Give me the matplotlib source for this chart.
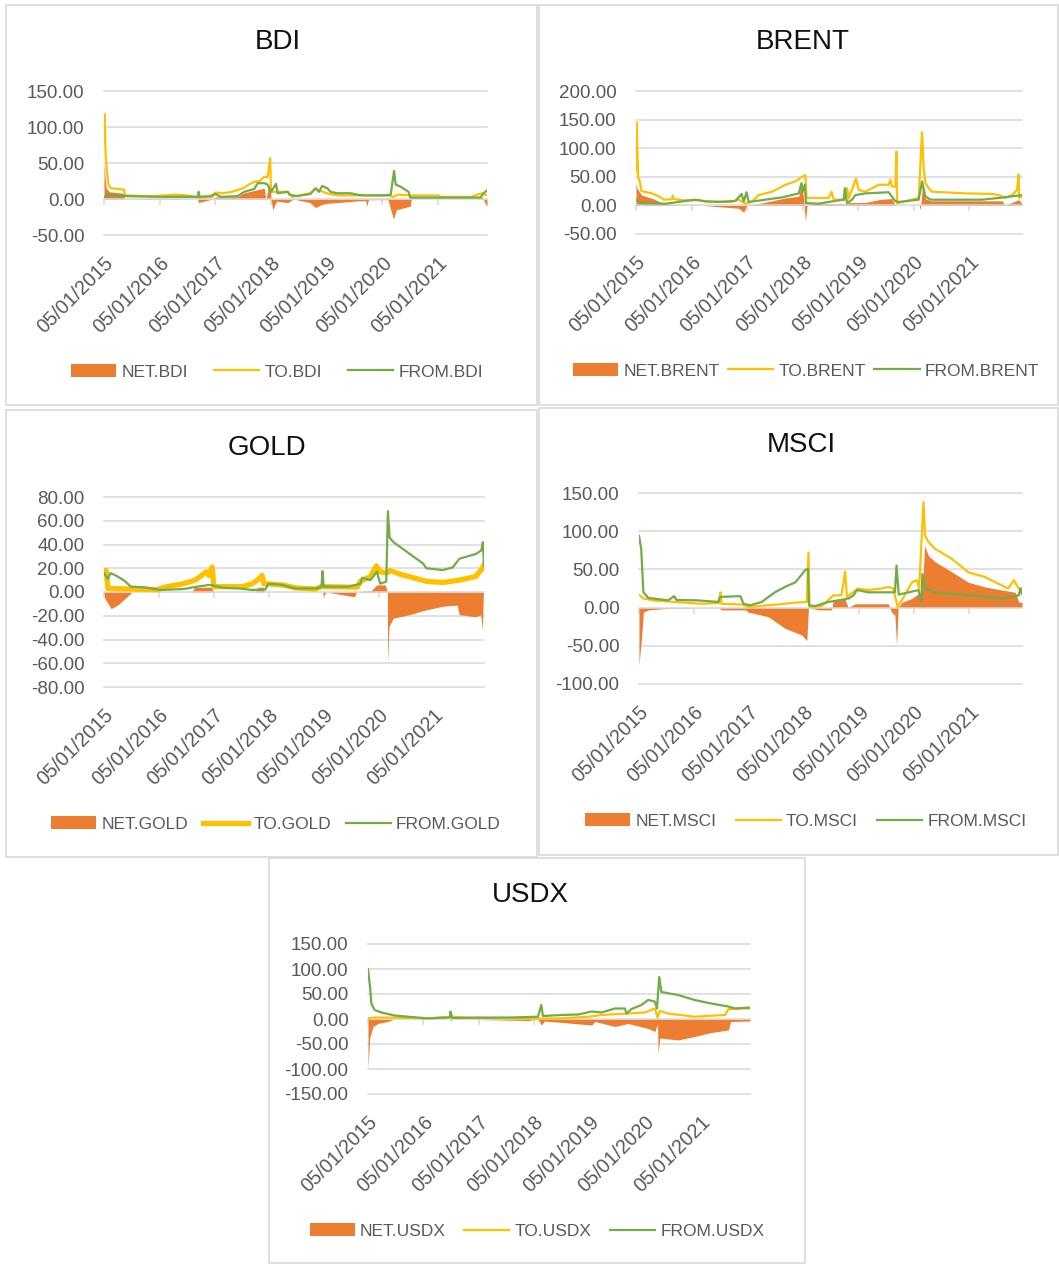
import matplotlib.pyplot as plt
from matplotlib.patches import Rectangle

# time axis in years after 05/01/2015
YEAR_LABELS = ['05/01/2015', '05/01/2016', '05/01/2017', '05/01/2018',
               '05/01/2019', '05/01/2020', '05/01/2021']

BDI_NET = [(0.0, 50), (0.02, 30), (0.04, 15), (0.1, 10), (0.35, 8), (0.37, 0), (1.0, 1),
           (1.68, 0), (1.7, -5), (1.8, -3), (1.95, 0), (2.0, 3), (2.4, 3), (2.5, 8), (2.7, 12),
           (2.88, 15), (2.91, -3), (2.95, 18), (2.99, 20), (3.0, 0), (3.03, -15), (3.1, -3),
           (3.3, -5), (3.4, 0), (3.7, -5), (3.8, -12), (3.9, -8), (4.0, -6), (4.2, -5), (4.5, -3),
           (4.7, -2), (4.72, -10), (4.75, -1), (5.1, -1), (5.2, -28), (5.25, -15), (5.4, -12),
           (5.5, -10), (5.52, 0), (6.7, 0), (6.8, 3), (6.84, -5), (6.88, -10)]
BDI_TO = [(0.0, 80), (0.01, 118), (0.03, 60), (0.05, 40), (0.08, 20), (0.12, 15), (0.25, 14),
          (0.36, 13), (0.38, 5), (0.8, 4), (1.1, 5), (1.3, 6), (1.5, 5), (1.7, 2), (1.95, 3),
          (2.0, 9), (2.15, 8), (2.3, 10), (2.5, 15), (2.6, 20), (2.7, 24), (2.8, 25), (2.88, 31),
          (2.94, 30), (2.985, 57), (3.0, 10), (3.3, 10), (3.38, 3), (3.7, 8), (3.8, 14), (3.9, 11),
          (4.0, 8), (4.2, 5), (5.1, 5), (5.2, 3), (5.28, 6), (5.5, 5), (6.0, 5), (6.05, 3),
          (6.6, 3), (6.7, 6), (6.8, 8), (6.88, 5)]
BDI_FROM = [(0.0, 3), (0.1, 6), (0.2, 5), (0.4, 4), (1.0, 3), (1.69, 3), (1.7, 10), (1.72, 3),
            (1.9, 4), (2.0, 7), (2.1, 3), (2.4, 4), (2.52, 10), (2.7, 14), (2.76, 22), (2.88, 22),
            (2.94, 20), (3.0, 10), (3.09, 21), (3.12, 8), (3.3, 10), (3.33, 6), (3.47, 4),
            (3.71, 7), (3.8, 15), (3.86, 10), (3.92, 18), (4.01, 15), (4.07, 10), (4.19, 8),
            (4.43, 8), (4.55, 6), (4.67, 5), (5.03, 5), (5.15, 6), (5.21, 39), (5.24, 20),
            (5.33, 17), (5.47, 10), (5.5, 2), (6.76, 2), (6.82, 8), (6.88, 12)]

BRENT_NET = [(0.0, 40), (0.02, 30), (0.1, 18), (0.3, 12), (0.5, 3), (0.7, 1), (1.2, 0),
             (1.85, -5), (1.94, -12), (1.99, 0), (2.2, 3), (2.69, 13), (2.93, 16), (2.98, 40),
             (3.02, 10), (3.05, -28), (3.08, 0), (3.3, 3), (3.77, 3), (3.83, 5), (4.13, 5),
             (4.37, 10), (4.6, 12), (4.67, 0), (5.1, 0), (5.12, -8), (5.16, 40), (5.21, 12),
             (5.3, 8), (6.6, 8), (6.63, 0), (6.77, 5), (6.89, 10), (6.95, 3)]
BRENT_TO = [(0.0, 60), (0.01, 145), (0.04, 47), (0.06, 45), (0.1, 25), (0.29, 21), (0.41, 16),
            (0.5, 10), (0.65, 11), (0.66, 17), (0.68, 11), (0.83, 9), (1.13, 9), (1.25, 7),
            (1.73, 6), (1.85, 10), (1.97, 3), (2.09, 7), (2.21, 18), (2.45, 24), (2.69, 36),
            (2.87, 42), (2.99, 50), (3.05, 53), (3.07, 13), (3.47, 13), (3.52, 24), (3.56, 10),
            (3.77, 10), (3.8, 30), (3.83, 12), (3.96, 47), (4.01, 27), (4.13, 24), (4.37, 36),
            (4.55, 36), (4.58, 45), (4.61, 33), (4.67, 33), (4.69, 94), (4.7, 4), (4.97, 10),
            (5.09, 13), (5.15, 128), (5.18, 65), (5.21, 39), (5.27, 30), (5.33, 24), (5.93, 21),
            (6.41, 20), (6.53, 18), (6.65, 13), (6.77, 18), (6.86, 27), (6.89, 54), (6.9, 13),
            (6.95, 16)]
BRENT_FROM = [(0.0, 10), (0.1, 4), (0.53, 3), (1.07, 10), (1.25, 7), (1.49, 6), (1.79, 8),
              (1.9, 20), (1.94, 7), (1.99, 23), (2.03, 6), (2.33, 10), (2.63, 14), (2.93, 21),
              (2.98, 39), (3.0, 24), (3.04, 36), (3.06, 4), (3.29, 3), (3.53, 7), (3.74, 10),
              (3.76, 30), (3.8, 4), (3.89, 10), (3.95, 18), (4.13, 21), (4.55, 23), (4.67, 7),
              (4.73, 6), (5.09, 10), (5.15, 42), (5.21, 16), (5.3, 10), (6.23, 10), (6.53, 13),
              (6.95, 18)]

GOLD_NET = [(0.0, 0), (0.01, -5), (0.13, -14), (0.25, -11), (0.49, -1), (0.5, 0), (1.6, 0),
            (1.65, 4), (1.95, 4), (2.0, 0), (2.75, 0), (2.8, 4), (2.9, 4), (2.92, 0), (3.98, 0),
            (4.0, -3), (4.05, 0), (4.3, -2), (4.56, -4), (4.6, 0), (4.74, 1), (4.86, 1),
            (4.97, 6), (5.12, 6), (5.16, 0), (5.165, -60), (5.19, -29), (5.27, -22), (5.57, -19),
            (5.87, -15), (6.17, -12), (6.43, -11), (6.47, -19), (6.77, -21), (6.86, -19),
            (6.89, -32), (6.91, 2)]
GOLD_TO = [(0.0, 18), (0.04, 18), (0.07, 3), (0.49, 2.5), (0.97, 2), (1.09, 4), (1.45, 7),
           (1.66, 10), (1.75, 13), (1.86, 17), (1.91, 14), (1.97, 21), (2.0, 4.5), (2.52, 4.5),
           (2.7, 7), (2.82, 11), (2.88, 14), (2.91, 7), (3.24, 6), (3.48, 3.5), (3.84, 2.5),
           (3.96, 4.5), (4.61, 4), (4.67, 9), (4.85, 13), (4.96, 22), (5.03, 17), (5.15, 16),
           (5.21, 18), (5.39, 15), (5.63, 12), (5.87, 9), (6.17, 8), (6.47, 10), (6.77, 13),
           (6.89, 20), (6.92, 23)]
GOLD_FROM = [(0.0, 16), (0.07, 11), (0.12, 16), (0.25, 13), (0.37, 9.5), (0.49, 4.5),
             (0.73, 4), (1.03, 1.7), (1.45, 2.5), (1.69, 4.5), (1.93, 6), (2.16, 3.6),
             (2.46, 3), (2.7, 1.7), (2.94, 2.2), (2.99, 7), (3.24, 6), (3.48, 3), (3.87, 3),
             (3.96, 4.5), (3.98, 17.6), (4.0, 4.5), (4.46, 4.5), (4.67, 7), (4.7, 12),
             (4.85, 10), (4.97, 17), (5.03, 7), (5.14, 8.7), (5.17, 68), (5.2, 46), (5.27, 42),
             (5.57, 32), (5.81, 24), (5.87, 20), (6.17, 18.5), (6.35, 20.7), (6.47, 28),
             (6.77, 32), (6.87, 35), (6.9, 42), (6.92, 22)]

MSCI_NET = [(0.0, -75), (0.05, -36), (0.08, -6), (0.17, -3), (0.53, -1), (1.44, 0), (1.5, -3),
            (1.93, -3), (1.99, -6), (2.35, -12), (2.65, -27), (2.96, -36), (3.05, -43),
            (3.08, 0), (3.26, -3), (3.5, -3), (3.53, 10), (3.74, 12), (3.8, 0), (3.93, 5),
            (4.53, 5), (4.59, -6), (4.65, -10), (4.68, -49), (4.71, 0), (4.78, 7), (4.96, 12),
            (5.11, 20), (5.15, 25), (5.19, 81), (5.26, 68), (5.38, 60), (5.68, 47), (5.99, 33),
            (6.29, 27), (6.59, 23), (6.84, 20), (6.9, 7), (6.96, 7)]
MSCI_TO = [(0.0, 17), (0.08, 12), (0.29, 9), (0.65, 7.4), (1.14, 5), (1.47, 6), (1.48, 20),
           (1.5, 5), (1.87, 4), (1.99, 1), (2.35, 3), (2.65, 5), (2.84, 6.5), (3.05, 7.4),
           (3.08, 72), (3.1, 1), (3.32, 2), (3.53, 16), (3.68, 16), (3.745, 47), (3.78, 14),
           (3.98, 25), (4.17, 23), (4.41, 25), (4.53, 27), (4.62, 25), (4.7, 1), (4.78, 10),
           (4.96, 33), (5.05, 36), (5.09, 25), (5.17, 138), (5.2, 94), (5.26, 86), (5.38, 77),
           (5.68, 64), (5.99, 46), (6.29, 40), (6.59, 29), (6.71, 25), (6.81, 36), (6.9, 25),
           (6.96, 25)]
MSCI_FROM = [(0.0, 94), (0.04, 77), (0.08, 20), (0.17, 12.6), (0.53, 9.5), (0.64, 15),
             (0.68, 10), (1.05, 9.5), (1.44, 7.4), (1.47, 14), (1.84, 15), (1.9, 5), (2.02, 3),
             (2.23, 7.4), (2.47, 20), (2.65, 27), (2.84, 33), (3.02, 49), (3.07, 51), (3.09, 3),
             (3.2, 2), (3.44, 7.4), (3.63, 9.5), (3.81, 12), (3.9, 16), (3.96, 23), (4.17, 20),
             (4.65, 20), (4.68, 55), (4.72, 17), (5.08, 23), (5.13, 7.4), (5.15, 44), (5.2, 25),
             (5.38, 20), (5.99, 16), (6.59, 12), (6.9, 16), (6.93, 25), (6.96, 18)]

USDX_NET = [(0.0, -100), (0.03, -38), (0.09, -15), (0.18, -9), (0.36, -5), (0.48, 0),
            (1.48, 0), (1.49, -4), (1.52, 0), (2.89, -3), (3.07, 0), (3.13, -12), (3.19, -4),
            (4.04, -12), (4.1, -5), (4.46, -15), (4.7, -9), (5.06, -19), (5.18, -25),
            (5.23, -10), (5.24, -68), (5.27, -38), (5.6, -42), (5.9, -35), (6.2, -27),
            (6.51, -22), (6.55, -5), (6.9, -4)]
USDX_TO = [(0.0, 1.3), (0.12, 3), (0.48, 2.7), (1.08, 1.3), (1.51, 4.6), (1.81, 2.7),
           (2.59, 1.3), (2.77, 0.5), (3.49, 1.3), (3.98, 4.6), (4.22, 8), (4.7, 11), (5.0, 13),
           (5.18, 21), (5.23, 3), (5.27, 16), (5.42, 11), (5.9, 4.6), (6.45, 8), (6.51, 20),
           (6.81, 21), (6.9, 21)]
USDX_FROM = [(0.0, 100), (0.04, 61), (0.06, 31), (0.12, 18), (0.24, 13), (0.48, 7), (0.78, 4),
             (1.08, 1.3), (1.48, 3), (1.49, 15), (1.52, 2), (1.99, 2.7), (2.59, 3), (3.07, 4.6),
             (3.13, 28), (3.16, 6), (3.49, 8), (3.8, 9), (4.04, 15), (4.22, 13), (4.46, 21),
             (4.64, 21), (4.67, 11), (4.76, 20), (4.94, 28), (5.06, 38), (5.18, 35), (5.22, 21),
             (5.26, 84), (5.3, 54), (5.6, 48), (5.9, 38), (6.2, 31), (6.51, 25), (6.63, 21),
             (6.9, 23)]

ORANGE = '#ED7D31'
YELLOW = '#FFC000'
GREEN = '#70AD47'
GRID = '#d9d9d9'
TXT = '#595959'

W, H = 1059, 1264
plt.rcParams['font.family'] = ['Liberation Sans', 'DejaVu Sans']
fig = plt.figure(figsize=(W / 100, H / 100), dpi=100)


def draw_panel(name, box, area, yticks, title_xy, legend_xy, net, to, frm,
               to_lw=1.6, colsp=1.0):
    # grey frame round the chart
    fig.add_artist(Rectangle((box[0] / W, 1 - box[3] / H), (box[2] - box[0]) / W,
                             (box[3] - box[1]) / H, transform=fig.transFigure,
                             fill=False, edgecolor=GRID, lw=1.2))
    l, t, r, b = area
    ax = fig.add_axes([l / W, 1 - b / H, (r - l) / W, (b - t) / H])

    tn, vn = zip(*net)
    tt, vt = zip(*to)
    tf, vf = zip(*frm)
    for y in yticks:
        if y != 0:
            ax.axhline(y, color=GRID, lw=1.1, clip_on=False, zorder=0)
    ax.fill_between(tn, 0, vn, color=ORANGE, lw=0, label='NET.' + name, zorder=2)
    ax.plot(tt, vt, color=YELLOW, lw=to_lw, label='TO.' + name, zorder=3)
    ax.plot(tf, vf, color=GREEN, lw=1.6, label='FROM.' + name, zorder=4)

    ax.set_xlim(0, max(tn[-1], tt[-1], tf[-1]))
    ax.set_ylim(yticks[0], yticks[-1])
    for s in ['top', 'right', 'left']:
        ax.spines[s].set_visible(False)
    ax.spines['bottom'].set_position(('data', 0))
    ax.spines['bottom'].set_color(GRID)
    ax.spines['bottom'].set_linewidth(1.1)
    ax.set_xticks(range(7))
    ax.tick_params(axis='x', direction='out', length=4, width=1.1, color=GRID,
                   labelbottom=False)
    ax.set_yticks(yticks)
    ax.set_yticklabels([f'{y:.2f}' for y in yticks])
    ax.tick_params(axis='y', length=0, pad=14, labelsize=13.5, labelcolor=TXT)
    ax.set_facecolor('none')

    # date labels sit below the plot area, not on the zero line
    sec = ax.secondary_xaxis('bottom')
    sec.set_xticks(range(7), YEAR_LABELS)
    sec.spines['bottom'].set_visible(False)
    sec.tick_params(length=0, pad=13, labelsize=14.2, labelcolor=TXT)
    for lab in sec.get_xticklabels():
        lab.set_rotation(45)
        lab.set_ha('right')
        lab.set_rotation_mode('anchor')

    fig.text(title_xy[0] / W, 1 - title_xy[1] / H, name, ha='center', va='center',
             fontsize=20, color='#111111')
    ax.legend(loc='center', bbox_to_anchor=(legend_xy[0] / W, 1 - legend_xy[1] / H),
              bbox_transform=fig.transFigure, ncol=3, frameon=False, fontsize=12.5,
              handlelength=2.6, handleheight=0.75, handletextpad=0.3, columnspacing=colsp,
              labelcolor=TXT, borderpad=0, borderaxespad=0)
    return ax


draw_panel('BDI', (6, 5, 537, 405), (104, 91, 487, 235), [-50, 0, 50, 100, 150],
           (278, 42), (277, 372), BDI_NET, BDI_TO, BDI_FROM, colsp=1.5)
draw_panel('BRENT', (539, 5, 1058, 405), (636, 91, 1022, 234), [-50, 0, 50, 100, 150, 200],
           (803, 42), (806, 371), BRENT_NET, BRENT_TO, BRENT_FROM, colsp=0.5)
draw_panel('GOLD', (6, 410, 537, 857), (104, 497, 484, 687),
           [-80, -60, -40, -20, 0, 20, 40, 60, 80],
           (267, 448), (276, 824), GOLD_NET, GOLD_TO, GOLD_FROM, to_lw=3.8, colsp=0.85)
draw_panel('MSCI', (539, 408, 1058, 855), (639, 493, 1022, 684), [-100, -50, 0, 50, 100, 150],
           (801, 445), (806, 821), MSCI_NET, MSCI_TO, MSCI_FROM, colsp=1.1)
draw_panel('USDX', (269, 858, 805, 1263), (368, 944, 750, 1094),
           [-150, -100, -50, 0, 50, 100, 150],
           (530, 895), (537, 1231), USDX_NET, USDX_TO, USDX_FROM, colsp=1.05)

fig.savefig('out.png', dpi=100)
